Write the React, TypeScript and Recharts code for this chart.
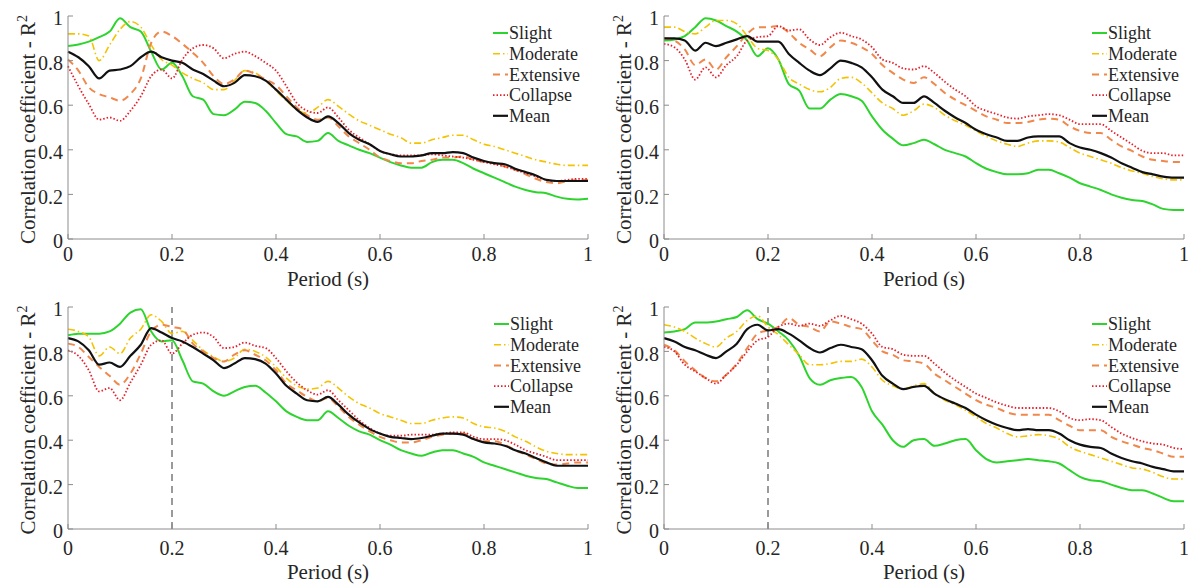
import React from "react";
import { LineChart, Line, XAxis, YAxis, ReferenceLine, Legend, Label } from "recharts";

// period axis (s)
const period = [
  0, 0.02, 0.04, 0.06, 0.08, 0.1, 0.12, 0.14, 0.16, 0.18,
  0.2, 0.22, 0.24, 0.26, 0.28, 0.3, 0.32, 0.34, 0.36, 0.38,
  0.4, 0.42, 0.44, 0.46, 0.48, 0.5, 0.52, 0.54, 0.56, 0.58,
  0.6, 0.62, 0.64, 0.66, 0.68, 0.7, 0.72, 0.74, 0.76, 0.78,
  0.8, 0.82, 0.84, 0.86, 0.88, 0.9, 0.92, 0.94, 0.96, 0.98, 1,
];

const axisTicks = [0, 0.2, 0.4, 0.6, 0.8, 1];

// panel A (top left)
const slightA = [
  0.865, 0.872, 0.885, 0.905, 0.93, 0.99, 0.95, 0.93, 0.84, 0.76,
  0.79, 0.73, 0.64, 0.625, 0.56, 0.555, 0.58, 0.615, 0.61, 0.575,
  0.52, 0.47, 0.46, 0.435, 0.44, 0.475, 0.44, 0.42, 0.4, 0.385,
  0.365, 0.345, 0.33, 0.32, 0.32, 0.345, 0.355, 0.355, 0.34, 0.315,
  0.295, 0.275, 0.255, 0.235, 0.22, 0.21, 0.205, 0.19, 0.18, 0.177, 0.18,
];
const moderateA = [
  0.92, 0.92, 0.91, 0.8, 0.87, 0.94, 0.975, 0.95, 0.87, 0.805,
  0.78, 0.745, 0.72, 0.7, 0.67, 0.67, 0.71, 0.755, 0.745, 0.71,
  0.665, 0.62, 0.58, 0.565, 0.59, 0.625, 0.595, 0.56, 0.53, 0.51,
  0.49, 0.47, 0.455, 0.43, 0.43, 0.445, 0.455, 0.465, 0.465, 0.445,
  0.425, 0.415, 0.4, 0.385, 0.37, 0.355, 0.345, 0.335, 0.33, 0.33, 0.33,
];
const extensiveA = [
  0.805, 0.755, 0.68, 0.65, 0.635, 0.62, 0.65, 0.72, 0.88, 0.93,
  0.91, 0.875, 0.835, 0.79, 0.73, 0.695, 0.715, 0.755, 0.74, 0.715,
  0.69, 0.64, 0.59, 0.555, 0.535, 0.545, 0.505, 0.46, 0.43, 0.4,
  0.365, 0.35, 0.34, 0.34, 0.35, 0.355, 0.365, 0.365, 0.37, 0.355,
  0.345, 0.34, 0.325, 0.31, 0.29, 0.27, 0.255, 0.25, 0.26, 0.265, 0.265,
];
const collapseA = [
  0.775, 0.685, 0.605, 0.535, 0.545, 0.53, 0.575, 0.64, 0.73, 0.76,
  0.72, 0.805, 0.855, 0.87, 0.855, 0.81, 0.83, 0.84, 0.82, 0.79,
  0.755, 0.685, 0.61, 0.575, 0.565, 0.59, 0.545, 0.49, 0.455, 0.425,
  0.395, 0.38, 0.375, 0.375, 0.375, 0.38, 0.375, 0.37, 0.365, 0.355,
  0.345, 0.335, 0.325, 0.31, 0.295, 0.28, 0.265, 0.26, 0.265, 0.27, 0.27,
];
const meanA = [
  0.84, 0.815, 0.775, 0.72, 0.755, 0.76, 0.775, 0.815, 0.84, 0.815,
  0.8, 0.79, 0.76, 0.74, 0.71, 0.685, 0.7, 0.735, 0.73, 0.71,
  0.67, 0.625, 0.58, 0.545, 0.525, 0.55, 0.52, 0.475, 0.445, 0.425,
  0.395, 0.38, 0.37, 0.37, 0.375, 0.385, 0.385, 0.39, 0.385, 0.365,
  0.35, 0.34, 0.335, 0.315, 0.3, 0.285, 0.265, 0.26, 0.26, 0.26, 0.26,
];

// panel B (top right)
const slightB = [
  0.89, 0.895, 0.91, 0.95, 0.99, 0.98, 0.955, 0.93, 0.89, 0.82,
  0.855, 0.805, 0.695, 0.665, 0.585, 0.585, 0.625, 0.65, 0.64, 0.62,
  0.55, 0.49, 0.45, 0.42, 0.43, 0.445, 0.425, 0.4, 0.385, 0.37,
  0.34, 0.315, 0.3, 0.29, 0.29, 0.295, 0.31, 0.31, 0.295, 0.275,
  0.25, 0.235, 0.22, 0.2, 0.185, 0.175, 0.17, 0.155, 0.135, 0.13, 0.13,
];
const moderateB = [
  0.95, 0.95, 0.93, 0.92, 0.95, 0.98, 0.98, 0.965, 0.91, 0.855,
  0.845, 0.805, 0.725, 0.695, 0.67, 0.66, 0.68, 0.72, 0.725, 0.7,
  0.655, 0.61, 0.585, 0.555, 0.575, 0.605, 0.59, 0.555, 0.53, 0.51,
  0.485, 0.46, 0.44, 0.425, 0.415, 0.43, 0.44, 0.44, 0.435, 0.41,
  0.385, 0.37, 0.355, 0.34, 0.32, 0.305, 0.295, 0.28, 0.27, 0.265, 0.265,
];
const extensiveB = [
  0.9, 0.89, 0.85, 0.78, 0.805, 0.76, 0.815, 0.865, 0.92, 0.95,
  0.95, 0.955, 0.925, 0.88, 0.85, 0.82, 0.86, 0.89, 0.88, 0.86,
  0.83, 0.78, 0.745, 0.715, 0.7, 0.725, 0.695, 0.655, 0.625, 0.6,
  0.575, 0.55, 0.535, 0.52, 0.52, 0.525, 0.535, 0.54, 0.535, 0.505,
  0.485, 0.475, 0.475, 0.445, 0.415, 0.395, 0.37, 0.355, 0.35, 0.345, 0.345,
];
const collapseB = [
  0.875, 0.86, 0.805, 0.715, 0.77, 0.725, 0.78, 0.82, 0.89, 0.905,
  0.91, 0.955, 0.935, 0.94, 0.895, 0.87, 0.905, 0.925, 0.91, 0.895,
  0.86, 0.805, 0.79, 0.765, 0.76, 0.775, 0.745, 0.705, 0.67, 0.64,
  0.595, 0.575, 0.56, 0.545, 0.54, 0.55, 0.555, 0.56, 0.555, 0.535,
  0.515, 0.515, 0.515, 0.485, 0.455, 0.425, 0.395, 0.385, 0.385, 0.375, 0.375,
];
const meanB = [
  0.9, 0.9, 0.89, 0.845, 0.88, 0.865, 0.88, 0.895, 0.91, 0.885,
  0.885, 0.885, 0.83, 0.79, 0.755, 0.735, 0.765, 0.8, 0.79, 0.77,
  0.725, 0.67, 0.64, 0.61, 0.61, 0.64, 0.61, 0.575, 0.545, 0.52,
  0.49, 0.47, 0.455, 0.44, 0.44, 0.455, 0.46, 0.46, 0.46, 0.43,
  0.41, 0.4, 0.385, 0.365, 0.34, 0.32, 0.3, 0.29, 0.28, 0.275, 0.275,
];

// panel C (bottom left)
const slightC = [
  0.873, 0.88, 0.88, 0.88, 0.89, 0.925, 0.975, 0.99, 0.89, 0.845,
  0.85, 0.76, 0.665, 0.655, 0.62, 0.6, 0.62, 0.64, 0.645, 0.615,
  0.575, 0.53, 0.505, 0.49, 0.49, 0.53, 0.5, 0.465, 0.44, 0.425,
  0.4, 0.38, 0.355, 0.34, 0.33, 0.345, 0.355, 0.355, 0.34, 0.325,
  0.3, 0.285, 0.27, 0.255, 0.24, 0.23, 0.225, 0.21, 0.195, 0.185, 0.185,
];
const moderateC = [
  0.9, 0.89, 0.865, 0.78, 0.82, 0.79, 0.86, 0.9, 0.965, 0.935,
  0.88, 0.89, 0.85, 0.805, 0.775, 0.755, 0.77, 0.81, 0.8, 0.775,
  0.73, 0.68, 0.645, 0.63, 0.635, 0.665, 0.635, 0.595, 0.565, 0.545,
  0.52, 0.505, 0.49, 0.475, 0.475, 0.49, 0.5, 0.505, 0.5, 0.475,
  0.46, 0.455, 0.44, 0.415, 0.395, 0.37, 0.35, 0.34, 0.335, 0.335, 0.335,
];
const extensiveC = [
  0.835, 0.82, 0.775, 0.73, 0.69, 0.65, 0.7, 0.79, 0.89, 0.92,
  0.91, 0.9, 0.835, 0.8, 0.77, 0.755, 0.785, 0.805, 0.785, 0.76,
  0.715, 0.655, 0.625, 0.595, 0.575, 0.59, 0.55, 0.505, 0.47, 0.44,
  0.415, 0.4, 0.39, 0.39, 0.4, 0.415, 0.425, 0.43, 0.43, 0.405,
  0.395, 0.395, 0.38, 0.355, 0.335, 0.315, 0.295, 0.29, 0.295, 0.3, 0.3,
];
const collapseC = [
  0.805, 0.78, 0.715, 0.62, 0.635, 0.58, 0.66, 0.74, 0.83, 0.85,
  0.79, 0.835, 0.875, 0.885, 0.865, 0.815, 0.82, 0.84, 0.825, 0.815,
  0.77, 0.71, 0.66, 0.625, 0.605, 0.625, 0.58, 0.535, 0.49, 0.455,
  0.43, 0.42, 0.42, 0.425, 0.425, 0.425, 0.43, 0.435, 0.435, 0.415,
  0.405, 0.405, 0.4, 0.38, 0.355, 0.34, 0.325, 0.31, 0.31, 0.31, 0.31,
];
const meanC = [
  0.86, 0.845, 0.805, 0.74, 0.75, 0.73, 0.78, 0.83, 0.905, 0.885,
  0.86, 0.845, 0.82, 0.79, 0.76, 0.725, 0.745, 0.77, 0.765, 0.745,
  0.7, 0.645, 0.61, 0.58, 0.575, 0.595, 0.56, 0.515, 0.48, 0.45,
  0.43, 0.415, 0.41, 0.405, 0.41, 0.42, 0.43, 0.43, 0.425, 0.405,
  0.39, 0.385, 0.375, 0.355, 0.34, 0.32, 0.3, 0.285, 0.285, 0.285, 0.285,
];

// panel D (bottom right)
const slightD = [
  0.885, 0.89, 0.9, 0.93, 0.93, 0.935, 0.945, 0.955, 0.985, 0.945,
  0.925, 0.89, 0.85, 0.78, 0.68, 0.65, 0.67, 0.68, 0.685, 0.64,
  0.53, 0.47, 0.4, 0.37, 0.4, 0.405, 0.375, 0.385, 0.4, 0.405,
  0.355, 0.315, 0.3, 0.305, 0.31, 0.315, 0.31, 0.305, 0.295, 0.265,
  0.235, 0.22, 0.215, 0.2, 0.185, 0.175, 0.175, 0.16, 0.14, 0.125, 0.125,
];
const moderateD = [
  0.92, 0.91, 0.89, 0.86, 0.835, 0.82, 0.86, 0.89, 0.94, 0.96,
  0.91, 0.875, 0.83, 0.785, 0.74, 0.74, 0.745, 0.755, 0.755, 0.765,
  0.73, 0.67, 0.645, 0.63, 0.645, 0.655, 0.61, 0.58, 0.56, 0.535,
  0.505, 0.475, 0.455, 0.43, 0.415, 0.42, 0.425, 0.42, 0.405, 0.37,
  0.35, 0.335, 0.32, 0.305, 0.29, 0.275, 0.27, 0.255, 0.235, 0.225, 0.225,
];
const extensiveD = [
  0.83, 0.805, 0.755, 0.715, 0.68, 0.665, 0.695, 0.745, 0.815, 0.88,
  0.895, 0.91, 0.95, 0.92, 0.91, 0.89, 0.935, 0.925, 0.91, 0.9,
  0.85, 0.8, 0.785, 0.76, 0.755, 0.745, 0.7, 0.67, 0.64, 0.61,
  0.58, 0.56, 0.545, 0.525, 0.515, 0.515, 0.515, 0.515, 0.49, 0.465,
  0.445, 0.445, 0.445, 0.415, 0.395, 0.38, 0.365, 0.355, 0.34, 0.325, 0.325,
];
const collapseD = [
  0.82, 0.8, 0.74, 0.71, 0.68, 0.655, 0.695, 0.74, 0.8, 0.85,
  0.865, 0.91, 0.925, 0.915, 0.925, 0.915, 0.94, 0.96, 0.945, 0.925,
  0.88, 0.82, 0.81, 0.785, 0.78, 0.78, 0.745, 0.705, 0.67, 0.64,
  0.61, 0.59, 0.57, 0.555, 0.545, 0.545, 0.545, 0.545, 0.53, 0.5,
  0.49, 0.495, 0.49, 0.46, 0.43, 0.41, 0.395, 0.385, 0.38, 0.365, 0.36,
];
const meanD = [
  0.86, 0.845, 0.82, 0.805, 0.785, 0.77, 0.8, 0.835, 0.9, 0.92,
  0.895, 0.9, 0.88, 0.85, 0.815, 0.795, 0.815, 0.83, 0.82, 0.81,
  0.76, 0.69, 0.655, 0.63, 0.64, 0.645, 0.61, 0.585, 0.565, 0.545,
  0.515, 0.49, 0.47, 0.455, 0.445, 0.45, 0.445, 0.445, 0.43, 0.4,
  0.38, 0.37, 0.365, 0.34, 0.32, 0.305, 0.295, 0.28, 0.27, 0.26, 0.26,
];

const SERIES = [
  { key: "slight", name: "Slight", color: "#2ed42e", width: 2, dash: undefined },
  { key: "moderate", name: "Moderate", color: "#f4c300", width: 1.6, dash: "7 3 1.5 3" },
  { key: "extensive", name: "Extensive", color: "#f0884c", width: 2, dash: "7 5" },
  { key: "collapse", name: "Collapse", color: "#e6202b", width: 1.8, dash: "1.5 2" },
  { key: "mean", name: "Mean", color: "#111111", width: 2.2, dash: undefined },
];

const PANELS = [
  { id: "A", left: 0, top: 0, width: 600, height: 290, right: 12, tickMargin: 13, titleGap: 47, legendLeft: 493, vline: false,
    slight: slightA, moderate: moderateA, extensive: extensiveA, collapse: collapseA, mean: meanA },
  { id: "B", left: 596, top: 0, width: 593, height: 290, right: 5, tickMargin: 13, titleGap: 47, legendLeft: 496, vline: false,
    slight: slightB, moderate: moderateB, extensive: extensiveB, collapse: collapseB, mean: meanB },
  { id: "C", left: 0, top: 291, width: 600, height: 294, right: 12, tickMargin: 17, titleGap: 50, legendLeft: 494, vline: true,
    slight: slightC, moderate: moderateC, extensive: extensiveC, collapse: collapseC, mean: meanC },
  { id: "D", left: 596, top: 291, width: 593, height: 294, right: 5, tickMargin: 17, titleGap: 50, legendLeft: 496, vline: true,
    slight: slightD, moderate: moderateD, extensive: extensiveD, collapse: collapseD, mean: meanD },
];

const FONT = "'Liberation Serif', 'Times New Roman', serif";
const TEXT = "#262626";
const AXIS = "#8c8c8c";

function LegendBox() {
  return (
    <svg width={100} height={106} style={{ display: "block" }}>
      {SERIES.map((s, i) => {
        const cy = 10 + i * 20.7;
        return (
          <g key={s.key}>
            <line x1={0} x2={15} y1={cy} y2={cy} stroke={s.color} strokeWidth={s.width} strokeDasharray={s.dash} />
            <text x={16} y={cy} dy="0.35em" fontSize={18} fontFamily={FONT} fill={TEXT}>
              {s.name}
            </text>
          </g>
        );
      })}
    </svg>
  );
}

function YTitle(props: any) {
  const vb = props.viewBox;
  const x = vb.x + vb.width - 33;
  const y = vb.y + vb.height / 2 + 2;
  return (
    <text x={x} y={y} transform={`rotate(-90 ${x} ${y})`} textAnchor="middle" fontSize={21} fontFamily={FONT} fill={TEXT}>
      Correlation coefficient - R<tspan dy={-8} fontSize={14}>2</tspan>
    </text>
  );
}

function Panel({ p }: { p: any }) {
  const data = period.map((x, i) => ({
    x,
    slight: p.slight[i],
    moderate: p.moderate[i],
    extensive: p.extensive[i],
    collapse: p.collapse[i],
    mean: p.mean[i],
  }));
  const plotH = p.height > 290 ? 222 : 223;

  return (
    <div style={{ position: "absolute", left: p.left, top: p.top }}>
      <LineChart width={p.width} height={p.height} data={data} margin={{ top: 16, right: p.right, bottom: 0, left: 0 }}>
        <XAxis
          type="number"
          dataKey="x"
          domain={[0, 1]}
          ticks={axisTicks}
          interval={0}
          height={p.height - 16 - plotH}
          stroke={AXIS}
          tickSize={-5}
          tickMargin={p.tickMargin}
          tick={{ fill: TEXT, fontSize: 20, fontFamily: FONT }}
        >
          <Label
            content={(lp: any) => (
              <text
                x={lp.viewBox.x + lp.viewBox.width / 2}
                y={lp.viewBox.y + p.titleGap}
                textAnchor="middle"
                fontSize={21}
                fontFamily={FONT}
                fill={TEXT}
              >
                Period (s)
              </text>
            )}
          />
        </XAxis>
        <YAxis
          type="number"
          domain={[0, 1]}
          ticks={axisTicks}
          interval={0}
          width={68}
          stroke={AXIS}
          tickSize={-5}
          tickMargin={10}
          tick={{ fill: TEXT, fontSize: 20, fontFamily: FONT, dy: 2 }}
        >
          <Label content={(lp: any) => <YTitle viewBox={lp.viewBox} />} />
        </YAxis>
        {p.vline && (
          <ReferenceLine x={0.2} stroke="#7a7a7a" strokeWidth={1.5} strokeDasharray="7 5" />
        )}
        {SERIES.map((s) => (
          <Line
            key={s.key}
            type="monotone"
            dataKey={s.key}
            name={s.name}
            stroke={s.color}
            strokeWidth={s.width}
            strokeDasharray={s.dash}
            dot={false}
            activeDot={false}
            isAnimationActive={false}
          />
        ))}
        <Legend
          layout="vertical"
          align="center"
          verticalAlign="middle"
          content={() => <LegendBox />}
          wrapperStyle={{ left: p.legendLeft, top: 23, width: 100, height: 106 }}
        />
      </LineChart>
    </div>
  );
}

export default function App() {
  return (
    <div
      style={{
        position: "absolute",
        left: 0,
        top: 0,
        width: 1189,
        height: 585,
        background: "#ffffff",
        fontFamily: FONT,
        overflow: "hidden",
      }}
    >
      {PANELS.map((p) => (
        <Panel key={p.id} p={p} />
      ))}
    </div>
  );
}
